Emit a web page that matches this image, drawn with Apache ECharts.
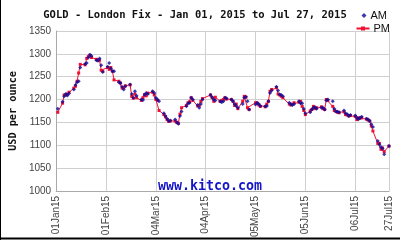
<!DOCTYPE html>
<html>
<head>
<meta charset="utf-8">
<script src="https://cdn.jsdelivr.net/npm/echarts@6/dist/echarts.min.js"></script>
<style>
  html, body { margin: 0; padding: 0; background: #fff; }
  #chart { width: 400px; height: 240px; }
</style>
</head>
<body>
<div id="chart"></div>
<script>
// trading days (London), Jan 2 - Jul 27 2015
var dates = [
  '2015-01-02','2015-01-05','2015-01-06','2015-01-07','2015-01-08','2015-01-09','2015-01-12','2015-01-13','2015-01-14','2015-01-15',
  '2015-01-16','2015-01-19','2015-01-20','2015-01-21','2015-01-22','2015-01-23','2015-01-26','2015-01-27','2015-01-28','2015-01-29',
  '2015-01-30','2015-02-02','2015-02-03','2015-02-04','2015-02-05','2015-02-06','2015-02-09','2015-02-10','2015-02-11','2015-02-12',
  '2015-02-13','2015-02-16','2015-02-17','2015-02-18','2015-02-19','2015-02-20','2015-02-23','2015-02-24','2015-02-25','2015-02-26',
  '2015-02-27','2015-03-02','2015-03-03','2015-03-04','2015-03-05','2015-03-06','2015-03-09','2015-03-10','2015-03-11','2015-03-12',
  '2015-03-13','2015-03-16','2015-03-17','2015-03-18','2015-03-19','2015-03-20','2015-03-23','2015-03-24','2015-03-25','2015-03-26',
  '2015-03-27','2015-03-30','2015-03-31','2015-04-01','2015-04-02','2015-04-07','2015-04-08','2015-04-09','2015-04-10','2015-04-13',
  '2015-04-14','2015-04-15','2015-04-16','2015-04-17','2015-04-20','2015-04-21','2015-04-22','2015-04-23','2015-04-24','2015-04-27',
  '2015-04-28','2015-04-29','2015-04-30','2015-05-01','2015-05-05','2015-05-06','2015-05-07','2015-05-08','2015-05-11','2015-05-12',
  '2015-05-13','2015-05-14','2015-05-15','2015-05-18','2015-05-19','2015-05-20','2015-05-21','2015-05-22','2015-05-26','2015-05-27',
  '2015-05-28','2015-05-29','2015-06-01','2015-06-02','2015-06-03','2015-06-04','2015-06-05','2015-06-08','2015-06-09','2015-06-10',
  '2015-06-11','2015-06-12','2015-06-15','2015-06-16','2015-06-17','2015-06-18','2015-06-19','2015-06-22','2015-06-23','2015-06-24',
  '2015-06-25','2015-06-26','2015-06-29','2015-06-30','2015-07-01','2015-07-02','2015-07-03','2015-07-06','2015-07-07','2015-07-08',
  '2015-07-09','2015-07-10','2015-07-13','2015-07-14','2015-07-15','2015-07-16','2015-07-17','2015-07-20','2015-07-21','2015-07-22',
  '2015-07-23','2015-07-24','2015-07-27'
];
var am = [
  1180,1195,1207,1212,1209,1213,1222,1232,1238,1240,
  1270,1278,1280,1292,1298,1295,1286,1285,1290,1275,
  1260,1272,1280,1268,1262,1262,1238,1236,1228,1222,
  1229,1233,1212,1204,1218,1208,1200,1199,1210,1214,
  1212,1218,1214,1204,1200,1196,1170,1164,1158,1153,
  1154,1156,1150,1147,1164,1174,1185,1191,1193,1204,
  1200,1188,1182,1190,1200,1210,1205,1200,1198,1196,
  1194,1196,1204,1202,1200,1196,1190,1186,1182,1190,
  1204,1206,1196,1178,1189,1193,1190,1186,1185,1186,
  1196,1214,1220,1228,1220,1211,1210,1207,1193,1189,
  1188,1190,1196,1192,1192,1180,1170,1172,1178,1182,
  1183,1180,1182,1182,1178,1198,1200,1196,1180,1174,
  1173,1172,1176,1170,1168,1164,1166,1165,1160,1157,
  1160,1162,1158,1156,1153,1146,1140,1109,1102,1096,
  1092,1080,1098
];
var pm = [
  1172,1192,1210,1210,1212,1216,1225,1229,1240,1258,
  1277,1276,1290,1294,1297,1292,1288,1287,1286,1264,
  1262,1270,1266,1270,1262,1243,1240,1236,1225,1226,
  1230,1232,1207,1203,1212,1204,1198,1204,1211,1208,
  1214,1216,1210,1200,1198,1176,1167,1162,1156,1152,
  1153,1153,1150,1148,1168,1182,1187,1193,1195,1204,
  1198,1186,1187,1196,1202,1210,1204,1196,1205,1196,
  1198,1200,1204,1201,1200,1196,1187,1190,1180,1196,
  1207,1205,1182,1178,1193,1192,1188,1185,1184,1190,
  1196,1218,1222,1226,1212,1210,1207,1204,1190,1188,
  1190,1193,1194,1196,1185,1176,1167,1175,1178,1185,
  1180,1182,1184,1180,1178,1200,1198,1185,1176,1174,
  1172,1171,1173,1167,1166,1164,1165,1163,1156,1160,
  1159,1160,1157,1155,1153,1142,1131,1104,1104,1091,
  1094,1086,1098
];
var months = ['Jan','Feb','Mar','Apr','May','Jun','Jul','Aug','Sep','Oct','Nov','Dec'];
var startDay = Date.UTC(2015, 0, 1);
var endDay = Date.UTC(2015, 6, 27);

function dayOffset(s) {
  var p = s.split('-');
  return (Date.UTC(+p[0], +p[1] - 1, +p[2]) - startDay) / 86400000;
}
function dayLabel(v) {
  var d = new Date(startDay + v * 86400000);
  var dd = d.getUTCDate();
  return (dd < 10 ? '0' : '') + dd + months[d.getUTCMonth()] + String(d.getUTCFullYear()).slice(2);
}

var amData = dates.map(function (d, i) { return [dayOffset(d), am[i]]; });
var pmData = dates.map(function (d, i) { return [dayOffset(d), pm[i]]; });

var blue = '#0a0a9a';
var red = '#ee1133';
var mono = '"DejaVu Sans Mono", "Liberation Mono", monospace';
var sans = '"Liberation Sans", Arial, sans-serif';

var chart = echarts.init(document.getElementById('chart'), null, { renderer: 'canvas' });
chart.setOption({
  animation: false,
  backgroundColor: '#fff',
  title: {
    text: 'GOLD - London Fix - Jan 01, 2015 to Jul 27, 2015',
    left: 190, top: 5, textAlign: 'center',
    textStyle: { fontFamily: mono, fontWeight: 'bold', fontSize: 10.5, color: '#111' }
  },
  legend: [
    {
      data: ['AM'], right: 8, top: 5, itemWidth: 5, itemHeight: 5, itemGap: 4,
      icon: 'diamond',
      textStyle: { fontFamily: sans, fontSize: 11, color: '#111', padding: [0, 0, 0, -1] }
    },
    {
      data: ['PM'], right: 5, top: 18, itemWidth: 13, itemHeight: 5, itemGap: 4,
      textStyle: { fontFamily: sans, fontSize: 11, color: '#111', padding: [0, 0, 0, -1] }
    }
  ],
  grid: { left: 49, right: 11, top: 31, bottom: 48 },
  xAxis: {
    type: 'value', min: 0, max: (endDay - startDay) / 86400000, interval: 31,
    axisLine: { lineStyle: { color: '#aaa' } },
    axisTick: { show: false },
    splitLine: { show: true, lineStyle: { color: '#cfcfcf' } },
    axisLabel: {
      rotate: 90, margin: 5, fontFamily: sans, fontSize: 10, color: '#444',
      showMaxLabel: true, formatter: dayLabel
    }
  },
  yAxis: {
    type: 'value', min: 1000, max: 1350, interval: 50,
    name: 'USD per ounce', nameLocation: 'middle', nameGap: 36,
    nameTextStyle: { fontFamily: mono, fontWeight: 'bold', fontSize: 10.2, color: '#111' },
    axisLine: { show: true, lineStyle: { color: '#aaa' } },
    axisTick: { show: false },
    splitLine: { lineStyle: { color: '#cfcfcf' } },
    axisLabel: {
      margin: 5, fontFamily: sans, fontSize: 10, color: '#444',
      formatter: function (v) { return String(v); }
    }
  },
  graphic: [
    {
      type: 'text', left: 158, top: 180, z: 1,
      style: { text: 'www.kitco.com', fontFamily: mono, fontWeight: 'bold', fontSize: 13.3, fill: '#1414c8' }
    },
    { type: 'line', shape: { x1: 0.5, y1: 0, x2: 0.5, y2: 240 }, style: { stroke: '#000', lineWidth: 1 } },
    { type: 'line', shape: { x1: 0, y1: 238.5, x2: 400, y2: 238.5 }, style: { stroke: '#000', lineWidth: 2 } }
  ],
  series: [
    {
      name: 'PM', type: 'line', data: pmData, z: 2,
      symbol: 'rect', symbolSize: 3, showAllSymbol: true,
      lineStyle: { color: red, width: 1 },
      itemStyle: { color: red }
    },
    {
      name: 'AM', type: 'scatter', data: amData, z: 3,
      symbol: 'diamond', symbolSize: 4,
      itemStyle: { color: blue }
    }
  ]
});
</script>
</body>
</html>
